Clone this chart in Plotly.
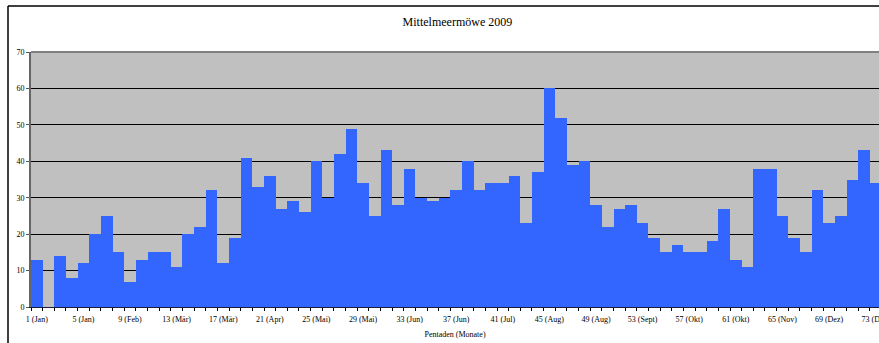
import plotly.graph_objects as go

# Pentaden 1..73 of the year 2009
pentaden = list(range(1, 74))

# Counts of Mittelmeermöwe per pentad
anzahl = [
    13, 0, 14, 8, 12, 20, 25, 15, 7, 13,
    15, 15, 11, 20, 22, 32, 12, 19, 41, 33,
    36, 27, 29, 26, 40, 30, 42, 49, 34, 25,
    43, 28, 38, 30, 29, 30, 32, 40, 32, 34,
    34, 36, 23, 37, 60, 52, 39, 40, 28, 22,
    27, 28, 23, 19, 15, 17, 15, 15, 18, 27,
    13, 11, 38, 38, 25, 19, 15, 32, 23, 25,
    35, 43, 34,
]

# Labelled pentads with month names
tick_pos = [1, 5, 9, 13, 17, 21, 25, 29, 33, 37, 41, 45, 49, 53, 57, 61, 65, 69, 73]
tick_text = ["1 (Jan)", "5 (Jan)", "9 (Feb)", "13 (Mär)", "17 (Mär)", "21 (Apr)",
             "25 (Mai)", "29 (Mai)", "33 (Jun)", "37 (Jun)", "41 (Jul)", "45 (Aug)",
             "49 (Aug)", "53 (Sept)", "57 (Okt)", "61 (Okt)", "65 (Nov)", "69 (Dez)",
             "73 (Dez)"]

W, H = 879, 343
ML, MT, MB = 31, 52, 36
plot_w = W - ML
plot_h = H - MT - MB
bar_px = 11.65  # width of one pentad in pixels

serif = "Liberation Serif, Times New Roman, serif"

fig = go.Figure()
fig.add_trace(go.Bar(
    x=pentaden,
    y=anzahl,
    width=1.0,
    marker=dict(color="#3366FF", line=dict(width=0)),
    hoverinfo="x+y",
))

def px_x(p):
    return (p - ML) / plot_w

def px_y(p):
    return (H - MB - p) / plot_h

fig.update_layout(
    width=W,
    height=H,
    margin=dict(l=ML, r=0, t=MT, b=MB, pad=0, autoexpand=False),
    paper_bgcolor="white",
    plot_bgcolor="#C0C0C0",
    bargap=0,
    showlegend=False,
    font=dict(family=serif, color="black", size=8),
    title=dict(
        text="Mittelmeermöwe 2009",
        font=dict(family=serif, size=12, color="black"),
        x=442 / W, xref="paper", xanchor="center",
        y=1 - 22 / H, yref="container", yanchor="middle",
    ),
    xaxis=dict(
        range=[0.5, 0.5 + plot_w / bar_px],
        automargin=False,
        tickmode="array",
        tickvals=tick_pos,
        ticktext=tick_text,
        ticks="",
        ticklabeloverflow="allow",
        ticklabelstandoff=4,
        tickfont=dict(family=serif, size=8, color="black"),
        showgrid=False,
        zeroline=False,
        showline=True,
        linecolor="#1a1a40",
        linewidth=1,
        minor=dict(ticks="outside", tick0=0.5, dtick=1, ticklen=3,
                   tickcolor="black", tickwidth=1, showgrid=False),
        title=dict(text="Pentaden (Monate)", font=dict(family=serif, size=8, color="black"),
                   standoff=8),
        fixedrange=True,
    ),
    yaxis=dict(
        range=[0, 70],
        automargin=False,
        tickmode="linear",
        tick0=0,
        dtick=10,
        ticks="outside",
        ticklen=3,
        tickcolor="#555555",
        tickfont=dict(family=serif, size=8, color="black"),
        showgrid=True,
        gridcolor="black",
        gridwidth=1,
        zeroline=False,
        showline=True,
        linecolor="#666666",
        linewidth=2,
        fixedrange=True,
    ),
    shapes=[
        # top border of the plot area
        dict(type="line", xref="paper", yref="paper", x0=0, x1=1, y0=1, y1=1,
             line=dict(color="#808080", width=2), layer="above"),
        # outer chart frame: left and top edges
        dict(type="line", xref="paper", yref="paper",
             x0=px_x(8), x1=px_x(8), y0=px_y(H), y1=px_y(6),
             line=dict(color="black", width=1.5), layer="above"),
        dict(type="line", xref="paper", yref="paper",
             x0=px_x(8), x1=px_x(W), y0=px_y(6), y1=px_y(6),
             line=dict(color="black", width=1.5), layer="above"),
    ],
)

fig.write_html("out.html")
